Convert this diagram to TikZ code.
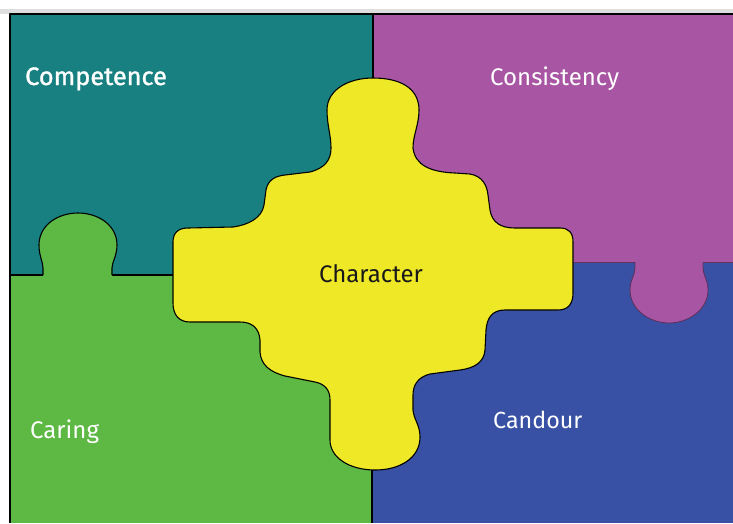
\documentclass[tikz,border=0pt]{standalone}
\usepackage{fontspec}
\setmainfont{Fira Sans}
\definecolor{cteal}{RGB}{24,128,128}
\definecolor{cmag}{RGB}{168,85,164}
\definecolor{cgreen}{RGB}{93,185,68}
\definecolor{cblue}{RGB}{56,81,164}
\definecolor{cyel}{RGB}{238,232,38}
\definecolor{cgrey}{RGB}{222,222,222}
\tikzset{
  edge/.style={draw=black, line width=1.1pt, line join=round},
  lbl/.style={text=white, font=\fontsize{24}{28}\selectfont, inner sep=0pt},
}
\begin{document}
\begin{tikzpicture}[x=1pt, y=-1pt]
\useasboundingbox (0,0) rectangle (733,523);
\fill[white] (0,0) rectangle (733,523);
\fill[cgrey] (0,9) rectangle (733,14);
% four pieces
\fill[cteal] (10,14) rectangle (373,275);
\fill[cmag] (373,14) rectangle (733,262);
\fill[cgreen] (10,275) rectangle (372,523);
\fill[cblue] (372,262) rectangle (733,523);
% outer border
\draw[edge] (10,523) -- (10,14) -- (733,14);
% dividers
\coordinate (tl) at (373,14);
\coordinate (tc) at (373,78);
\coordinate (bc) at (372,470);
\coordinate (bl) at (372,523);
\draw[edge] (tl) -- (tc);
\draw[edge] (bc) -- (bl);
\coordinate (lA) at (10,275);
\coordinate (lB) at (173,275);
\draw[edge] (lA) -- (lB);
\coordinate (rA) at (573,262);
\coordinate (rB) at (733,262);
\draw[edge, line width=0.6pt, draw=cmag!60!black] (rA) -- (rB);
% green tab
\fill[cgreen] (43,276) -- (43,268) .. controls (43,262) and (39,256) .. (39,245)
  .. controls (39,225) and (58,213) .. (78,213)
  .. controls (98,213) and (117,225) .. (117,245)
  .. controls (117,256) and (112,262) .. (112,268) -- (112,276) -- cycle;
\draw[edge] (43,275) -- (43,268) .. controls (43,262) and (39,256) .. (39,245)
  .. controls (39,225) and (58,213) .. (78,213)
  .. controls (98,213) and (117,225) .. (117,245)
  .. controls (117,256) and (112,262) .. (112,268) -- (112,275);
% magenta tab
\fill[cmag] (635,261) -- (635,268) .. controls (635,275) and (630,280) .. (630,290)
  .. controls (630,310) and (650,323) .. (669,323)
  .. controls (688,323) and (708,310) .. (708,290)
  .. controls (708,280) and (703,275) .. (703,268) -- (703,261) -- cycle;
\draw[edge, line width=0.8pt, draw=cmag!55!black] (635,262) -- (635,268) .. controls (635,275) and (630,280) .. (630,290)
  .. controls (630,310) and (650,323) .. (669,323)
  .. controls (688,323) and (708,310) .. (708,290)
  .. controls (708,280) and (703,275) .. (703,268) -- (703,262);
% yellow cross
\filldraw[fill=cyel, edge] (373,78)
  .. controls (400,78) and (419,88) .. (419,110)
  .. controls (419,125) and (413,135) .. (413,148)
  .. controls (415,165) and (430,172) .. (455,173)
  -- (470,174) .. controls (482,176) and (487,185) .. (488,195)
  -- (490,210) .. controls (492,222) and (500,228) .. (515,228)
  -- (560,228) .. controls (569,228) and (573,233) .. (573,242)
  -- (573,293) .. controls (573,304) and (568,310) .. (558,310)
  -- (505,310) .. controls (492,310) and (487,318) .. (486,330)
  -- (485,350) .. controls (484,362) and (475,368) .. (460,370)
  -- (430,374) .. controls (418,377) and (413,385) .. (413,395)
  -- (413,410) .. controls (414,420) and (420,425) .. (420,437)
  .. controls (420,458) and (400,470) .. (375,470)
  .. controls (350,470) and (330,458) .. (330,440)
  -- (330,400) .. controls (330,390) and (325,384) .. (315,382)
  -- (285,376) .. controls (270,372) and (261,365) .. (260,352)
  -- (260,340) .. controls (259,328) and (252,322) .. (240,322)
  -- (190,322) .. controls (179,322) and (173,315) .. (173,303)
  -- (173,242) .. controls (173,233) and (178,228) .. (188,228)
  -- (233,227) .. controls (248,225) and (262,218) .. (264,205)
  -- (266,190) .. controls (268,180) and (275,176) .. (285,175)
  -- (310,172) .. controls (325,168) and (331,160) .. (331,148)
  .. controls (331,135) and (327,125) .. (327,110)
  .. controls (327,90) and (348,78) .. (373,78) -- cycle;
% labels
\node[lbl, anchor=base west, font=\fontsize{25.3}{29}\selectfont\addfontfeatures{FakeBold=1.2}] (comp) at (25,85) {Competence};
\node[lbl, anchor=base west] (cons) at (490,85) {Consistency};
\node[lbl, anchor=base, text=black!90] (char) at (371,282) {Character};
\node[lbl, anchor=base west] (car) at (30,438) {Caring};
\node[lbl, anchor=base west, font=\fontsize{23.3}{28}\selectfont] (cand) at (493,428) {Candour};
\end{tikzpicture}
\end{document}
